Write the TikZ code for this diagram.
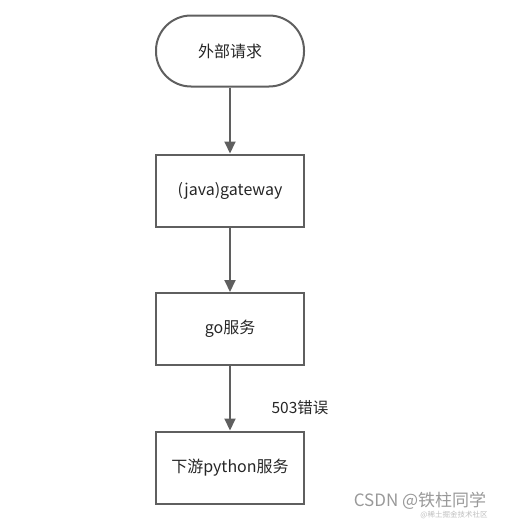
\documentclass[tikz,border=0pt]{standalone}
\usepackage{fontspec}
\setmainfont{Noto Sans CJK SC}
\usetikzlibrary{arrows.meta}
\definecolor{linegray}{HTML}{5F5F5F}
\definecolor{textgray}{HTML}{262626}
\tikzset{
	flowbox/.style={draw=linegray, line width=2pt, minimum width=148pt, minimum height=72pt, text=textgray, font=\fontsize{16}{19}\selectfont},
	startbox/.style={flowbox, rounded corners=35pt, minimum height=71pt},
	flowarrow/.style={draw=linegray, line width=2pt, -{Triangle[length=12pt,width=11pt]}}
}
\begin{document}
\begin{tikzpicture}[x=1pt, y=-1pt]
	\useasboundingbox (0,0) rectangle (504,522);
	%nodes
	\node[startbox] (request) at (230,51) {外部请求};
	\node[flowbox] (gateway) at (230,190.5) {(java)gateway};
	\node[flowbox] (goservice) at (230,329) {go服务};
	\node[flowbox] (pyservice) at (230,467.5) {下游python服务};
	%arrows
	\draw[flowarrow] (request) -- (gateway);
	\draw[flowarrow] (gateway) -- (goservice);
	\draw[flowarrow] (goservice) -- (pyservice);
	%labels
	\node[text=textgray, font=\fontsize{15.5}{18}\selectfont] (error) at (300,408) {503错误};
	\node[text=gray!80, font=\fontsize{17}{20}\selectfont, inner sep=0pt] (mark) at (420,501) {CSDN @铁柱同学};
	\node[text=gray!50, font=\fontsize{7.5}{8}\selectfont, inner sep=0pt] (submark) at (454,515) {@稀土掘金技术社区};
\end{tikzpicture}
\end{document}
